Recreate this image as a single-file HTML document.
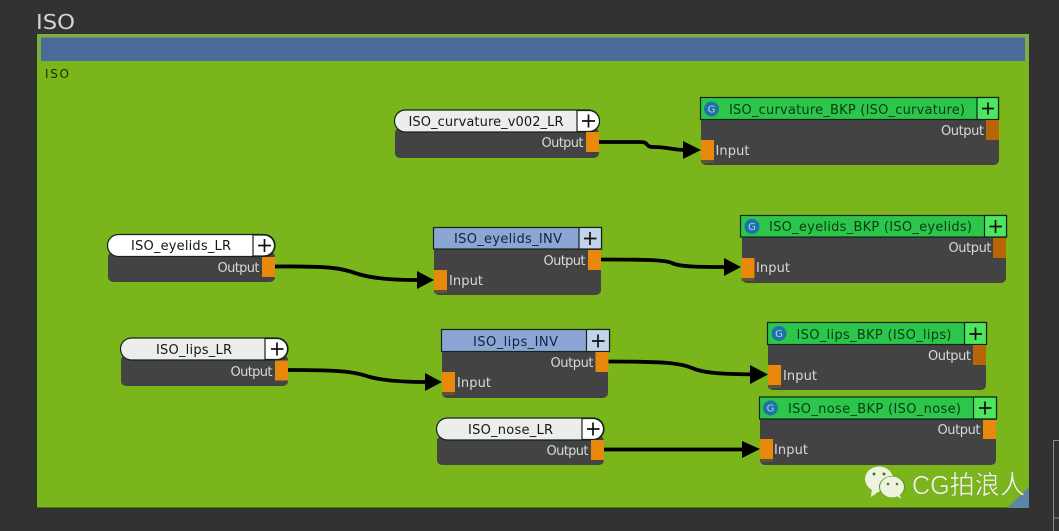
<!DOCTYPE html>
<html><head><meta charset="utf-8"><style>
html,body{margin:0;padding:0;background:#323232;width:1059px;height:531px;overflow:hidden}
svg{display:block}
text{font-family:"DejaVu Sans","Liberation Sans",sans-serif;font-size:13px}
.l{fill:#d8d8d8}.t{fill:#161616}.g{fill:#0c3a18}.b{fill:#10243c}
.body{fill:#434343}.sh{fill:#5b5436}.p{fill:#e8890c}.d{fill:#b86508}
.h{stroke:#10261a;stroke-width:1.2}
.plus{stroke:#111;stroke-width:1.700;fill:none}
.c{stroke:#000;stroke-width:3.800;fill:none}
</style></head><body>
<svg width="1059" height="531" viewBox="0 0 1059 531" xmlns="http://www.w3.org/2000/svg">
<rect width="1059" height="531" fill="#323232"/>
<text x="36" y="29" textLength="39" lengthAdjust="spacingAndGlyphs" style="font-size:20px" fill="#d4d4d4">ISO</text>
<rect x="36" y="34" width="993" height="474.500" fill="#1f3a10"/>
<rect x="37" y="34" width="992" height="473.500" fill="#7ab51b"/>
<rect x="37" y="34" width="992" height="27.500" fill="#7fae45"/>
<rect x="41" y="37.500" width="984" height="23.500" fill="#4a6a98"/>
<text x="45" y="78" textLength="24" style="font-size:12px" fill="#15300e">ISO</text>
<polygon points="1029,487 1029,508 1007,508" fill="#5d85a6"/>
<path d="M1053.500 531V440.500H1059M1053.500 518H1059" stroke="#8a8a8a" fill="none"/>

<!-- connectors -->
<path class="c" d="M599 142H640C650 142 644 147 654 147C668 147 672 150 686 150"/>
<polygon points="683,141 701,150 683,159" fill="#000"/>
<path class="c" d="M275 266.500C330 266 342 268 358 274C375 279 395 280 420 280"/>
<polygon points="417,271 434,280 417,289" fill="#000"/>
<path class="c" d="M288 370C345 370 355 372 370 377C385 381 410 382 428 382"/>
<polygon points="425,373 442,382 425,391" fill="#000"/>
<path class="c" d="M601 259.500C650 259.500 665 260 672 263C680 267 700 267 728 267"/>
<polygon points="724,258 741,267 724,276" fill="#000"/>
<path class="c" d="M608 361.500C665 361.500 680 363 692 368C705 374 730 374 755 374.500"/>
<polygon points="750,365 768,374.500 750,384" fill="#000"/>
<path class="c" d="M604 449.500H748"/>
<polygon points="742,441 760,449 742,458" fill="#000"/>

<!-- curvature LR -->
<rect class="body" x="395" y="128" width="204" height="30" rx="5"/>
<rect class="h" x="394.500" y="110" width="205" height="22" rx="11" fill="#eceeec"/>
<path class="h" d="M577 110.500H589A10.500 10.500 0 0 1 589 131.500H577Z" fill="#fff"/>
<path class="plus" d="M582 121H595M588.500 114.500V127.500"/>
<rect class="p" x="586" y="132" width="13" height="20"/>
<text class="t" x="408.500" y="126" textLength="155">ISO_curvature_v002_LR</text>
<text class="l" x="541.500" y="147" textLength="42">Output</text>

<!-- curvature BKP -->
<rect class="body" x="701" y="116" width="298" height="49" rx="5"/>
<rect class="h" x="700.500" y="97.500" width="298" height="22" fill="#2cc64b"/>
<rect class="h" x="977" y="97.500" width="21.500" height="22" fill="#4fe65f"/>
<path class="plus" d="M982 108.500H994M988 102.500V114.500"/>
<circle cx="711.500" cy="109" r="7.500" fill="#1f72a8"/>
<text x="711.500" y="112.500" text-anchor="middle" style="font-size:10px" fill="#a8d4ee">G</text>
<text class="g" x="729" y="114" textLength="236">ISO_curvature_BKP (ISO_curvature)</text>
<rect class="d" x="986" y="120" width="13" height="20"/>
<rect class="sh" x="701" y="160" width="13" height="3"/>
<rect class="p" x="701" y="140" width="13" height="20"/>
<text class="l" x="941" y="135" textLength="43">Output</text>
<text class="l" x="715.500" y="155" textLength="34">Input</text>

<!-- eyelids LR -->
<rect class="body" x="108" y="252" width="167" height="30" rx="5"/>
<rect class="h" x="107.500" y="234.500" width="167.500" height="22" rx="11" fill="#fff"/>
<path class="h" d="M253 235H264A10.500 10.500 0 0 1 264 256H253Z" fill="#fff"/>
<path class="plus" d="M258 245.500H271M264.500 239V252"/>
<rect class="p" x="262" y="257" width="13" height="20"/>
<text class="t" x="131" y="250" textLength="100">ISO_eyelids_LR</text>
<text class="l" x="217.500" y="272" textLength="42">Output</text>

<!-- lips LR -->
<rect class="body" x="121" y="355" width="167" height="31" rx="5"/>
<rect class="h" x="120.500" y="338" width="167.500" height="22" rx="11" fill="#eceeec"/>
<path class="h" d="M265 338.500H277A10.500 10.500 0 0 1 277 359.500H265Z" fill="#fff"/>
<path class="plus" d="M271 349H283.500M277 342.500V355.500"/>
<rect class="p" x="275" y="360.500" width="13" height="20"/>
<text class="t" x="156" y="354" textLength="76">ISO_lips_LR</text>
<text class="l" x="230.500" y="376" textLength="42">Output</text>

<!-- nose LR -->
<rect class="body" x="437" y="436" width="167" height="29" rx="5"/>
<rect class="h" x="436.500" y="418" width="167.500" height="22" rx="11" fill="#eceeec"/>
<path class="h" d="M582 418.500H593A10.500 10.500 0 0 1 593 439.500H582Z" fill="#fff"/>
<path class="plus" d="M587 429H599.500M593 422.500V435.500"/>
<rect class="p" x="591" y="440" width="13" height="20"/>
<text class="t" x="468" y="434" textLength="85">ISO_nose_LR</text>
<text class="l" x="546.500" y="455" textLength="42">Output</text>

<!-- eyelids INV -->
<rect class="body" x="434" y="245" width="167" height="50" rx="5"/>
<rect class="h" x="433.500" y="227.500" width="168" height="21.500" fill="#8ba5d4"/>
<rect class="h" x="579" y="227.500" width="22.500" height="21.500" fill="#c3d3ec"/>
<path class="plus" d="M584 238.500H596.500M590 232V245"/>
<rect class="p" x="588" y="250" width="13" height="20"/>
<rect class="sh" x="434" y="290" width="13" height="3"/>
<rect class="p" x="434" y="270" width="13" height="20"/>
<text class="b" x="454" y="243" textLength="108">ISO_eyelids_INV</text>
<text class="l" x="543.500" y="265" textLength="42">Output</text>
<text class="l" x="449" y="285" textLength="34">Input</text>

<!-- lips INV -->
<rect class="body" x="442" y="348" width="166" height="50" rx="5"/>
<rect class="h" x="441.500" y="329.500" width="168" height="22" fill="#8ba5d4"/>
<rect class="h" x="586.500" y="329.500" width="23" height="22" fill="#c3d3ec"/>
<path class="plus" d="M592 341H604.500M598 334.500V347.500"/>
<rect class="p" x="595.500" y="352" width="13" height="20"/>
<rect class="sh" x="442" y="392" width="13" height="3"/>
<rect class="p" x="442" y="372" width="13" height="20"/>
<text class="b" x="473" y="346" textLength="85">ISO_lips_INV</text>
<text class="l" x="550.500" y="367" textLength="43">Output</text>
<text class="l" x="457" y="387" textLength="34">Input</text>

<!-- eyelids BKP -->
<rect class="body" x="742" y="233" width="264" height="50" rx="5"/>
<rect class="h" x="740.500" y="215.500" width="266" height="21.500" fill="#2cc64b"/>
<rect class="h" x="984.500" y="215.500" width="22" height="21.500" fill="#4fe65f"/>
<path class="plus" d="M989.500 226.500H1002M995.500 220V233"/>
<circle cx="752" cy="226.500" r="7.500" fill="#1f72a8"/>
<text x="752" y="230" text-anchor="middle" style="font-size:10px" fill="#a8d4ee">G</text>
<text class="g" x="769" y="231" textLength="203">ISO_eyelids_BKP (ISO_eyelids)</text>
<rect class="d" x="993" y="238" width="13" height="20"/>
<rect class="sh" x="741.500" y="278" width="13" height="3"/>
<rect class="p" x="741.500" y="258" width="13" height="20"/>
<text class="l" x="948.500" y="252" textLength="43">Output</text>
<text class="l" x="756" y="272" textLength="34">Input</text>

<!-- lips BKP -->
<rect class="body" x="768" y="341" width="218" height="49" rx="5"/>
<rect class="h" x="767.500" y="322.500" width="219" height="22" fill="#2cc64b"/>
<rect class="h" x="964.500" y="322.500" width="22" height="22" fill="#4fe65f"/>
<path class="plus" d="M969.500 334H982M975.500 327.500V340"/>
<circle cx="779" cy="333.500" r="7.500" fill="#1f72a8"/>
<text x="779" y="337" text-anchor="middle" style="font-size:10px" fill="#a8d4ee">G</text>
<text class="g" x="796.500" y="339" textLength="155">ISO_lips_BKP (ISO_lips)</text>
<rect class="d" x="973" y="345" width="13" height="20"/>
<rect class="sh" x="768" y="385" width="13" height="3"/>
<rect class="p" x="768" y="365" width="13" height="20"/>
<text class="l" x="928" y="360" textLength="43">Output</text>
<text class="l" x="783" y="380" textLength="34">Input</text>

<!-- nose BKP -->
<rect class="body" x="760" y="415" width="236" height="50" rx="5"/>
<rect class="h" x="759.500" y="397" width="237" height="22" fill="#2cc64b"/>
<rect class="h" x="973.500" y="397" width="23" height="22" fill="#4fe65f"/>
<path class="plus" d="M979 408H991.500M985 401.500V414.500"/>
<circle cx="770.500" cy="408" r="7.500" fill="#1f72a8"/>
<text x="770.500" y="411.500" text-anchor="middle" style="font-size:10px" fill="#a8d4ee">G</text>
<text class="g" x="788" y="413" textLength="173">ISO_nose_BKP (ISO_nose)</text>
<rect class="p" x="983" y="420" width="13" height="19"/>
<rect class="sh" x="760" y="459" width="13" height="3"/>
<rect class="p" x="760" y="439" width="13" height="20"/>
<text class="l" x="937.500" y="434" textLength="43">Output</text>
<text class="l" x="774" y="454" textLength="34">Input</text>

<!-- watermark -->
<ellipse cx="879" cy="479" rx="14" ry="12.500" fill="#eef3e0"/>
<polygon points="872,488 871,497 881,490" fill="#eef3e0"/>
<ellipse cx="892" cy="487" rx="13" ry="11" fill="#5f8f20"/>
<ellipse cx="892" cy="487" rx="12" ry="10.500" fill="#eef3e0"/>
<polygon points="896,495 901,499 899,492" fill="#eef3e0"/>
<circle cx="874" cy="474" r="1.500" fill="#5a6a40"/><circle cx="884" cy="474" r="1.500" fill="#5a6a40"/>
<circle cx="888" cy="484" r="1.300" fill="#5a6a40"/><circle cx="897" cy="484" r="1.300" fill="#5a6a40"/>
<text x="912" y="494" textLength="113" lengthAdjust="spacingAndGlyphs" style="font-size:26px;font-family:'Liberation Sans','Noto Sans CJK SC',sans-serif" fill="#eef3e0" stroke="#5f8f20" stroke-width="0.300">CG拍浪人</text>
</svg>
</body></html>
